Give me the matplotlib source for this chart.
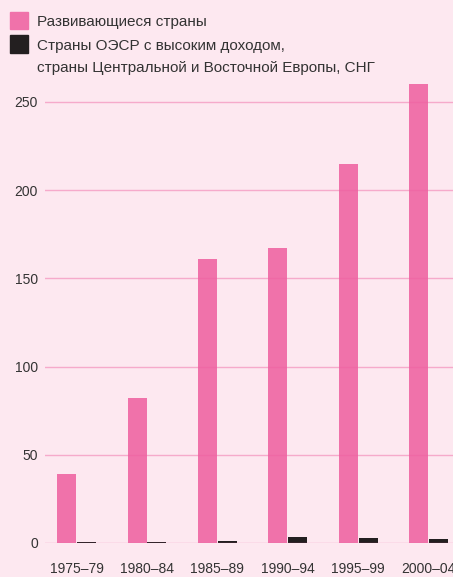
import matplotlib
matplotlib.use("Agg")
import matplotlib.pyplot as plt
import matplotlib.patches as mpatches
import numpy as np

# data
periods = ['1975–79', '1980–84', '1985–89', '1990–94', '1995–99', '2000–04']
developing = [39, 82, 161, 167, 215, 260]
oecd_etc = [0.5, 0.5, 1.2, 3.5, 3.0, 2.0]
yticks = [0, 50, 100, 150, 200, 250]

legend_labels = ['Развивающиеся страны',
                 'Страны ОЭСР с высоким доходом,\nстраны Центральной и Восточной Европы, СНГ']

BG = '#fde8f0'
PINK = '#f072aa'
DARK = '#231f20'
TXT = '#333333'

plt.rcParams['font.family'] = ['Liberation Sans', 'DejaVu Sans']

W, H = 453, 577
fig = plt.figure(figsize=(W / 100, H / 100), dpi=100, facecolor=BG)

ymax = 265
px_per_unit = (543 - 102) / 250
ax_h = ymax * px_per_unit
ax = fig.add_axes([45 / W, (H - 543) / H, (W - 45) / W, ax_h / H])
ax.set_facecolor(BG)

x = np.arange(len(periods))
bw = 0.27
ax.bar(x - bw / 2 - 0.007, developing, width=bw, color=PINK, zorder=2)
ax.bar(x + bw / 2 + 0.007, oecd_etc, width=bw, color=DARK, zorder=2)

ax.set_xlim(-0.45, 5.35)
ax.set_ylim(0, ymax)
for v in yticks:
    ax.axhline(v, color='#ee5fa0', lw=1, alpha=0.45, zorder=3)

ax.set_yticks(yticks)
ax.set_yticklabels([str(v) for v in yticks], fontsize=10, color=TXT)
ax.set_xticks(x)
ax.set_xticklabels(periods, fontsize=10, color=TXT)
ax.tick_params(length=0)
ax.tick_params(axis='y', pad=5)
ax.tick_params(axis='x', pad=14)
for s in ax.spines.values():
    s.set_visible(False)

# legend drawn by hand in figure pixels
def fy(py):
    return 1 - py / H

fig.patches.append(mpatches.Rectangle((10 / W, fy(29)), 18 / W, 17 / H,
                                      transform=fig.transFigure, color=PINK))
fig.patches.append(mpatches.Rectangle((10 / W, fy(53)), 18 / W, 18 / H,
                                      transform=fig.transFigure, color=DARK))
fig.text(37 / W, fy(22), legend_labels[0], fontsize=11, color=TXT, va='center')
fig.text(37 / W, fy(57), legend_labels[1], fontsize=11, color=TXT,
         va='center', linespacing=1.65)

fig.savefig('out.png', dpi=100, facecolor=BG)
